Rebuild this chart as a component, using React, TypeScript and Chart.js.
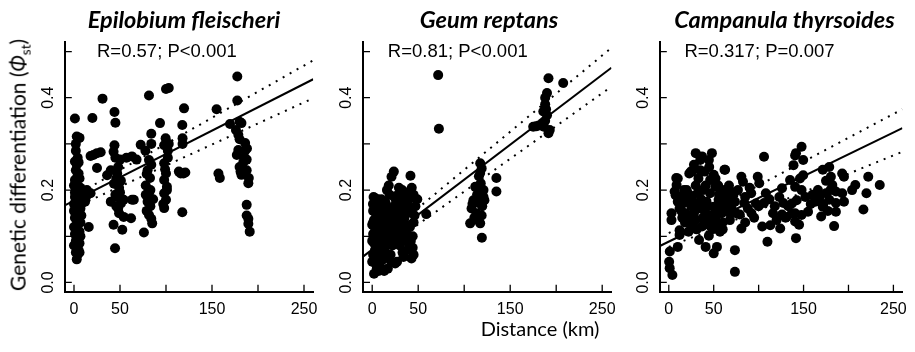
import React, { useEffect, useRef } from "react";
import { Chart, registerables } from "chart.js";
Chart.register(...registerables);

// ---------- axes ----------
const xTicks = [0, 50, 100, 150, 200, 250];
const xTickLabels = ["0", "50", "", "150", "", "250"];
const yTicks = [0, 0.1, 0.2, 0.3, 0.4, 0.5];
const yTickLabels = ["0.0", "", "0.2", "", "0.4", ""];
const xRange = [-10, 260];
const yRange = [-0.02, 0.52];

// ---------- text ----------
const panelTitles = ["Epilobium fleischeri", "Geum reptans", "Campanula thyrsoides"];
const statLabels = ["R=0.57; P<0.001", "R=0.81; P<0.001", "R=0.317; P=0.007"];
const statLabelX = [101, 93, 101];
const statLabelY = 0.5;
const xAxisTitle = "Distance (km)";

// ---------- data: [distance km, PhiST] ----------
const epilobiumPoints: number[][] = [
  [1, 0.355], [3, 0.316], [5, 0.314], [6, 0.313], [2, 0.285], [1, 0.262], [3, 0.255], [2, 0.243], [4, 0.232], [1, 0.222],
  [5, 0.236], [3, 0.212], [6, 0.225], [2, 0.2], [4, 0.195], [7, 0.19], [1, 0.185], [5, 0.178], [8, 0.17], [3, 0.168],
  [2, 0.158], [6, 0.155], [4, 0.148], [1, 0.14], [3, 0.135], [5, 0.13], [2, 0.122], [4, 0.115], [6, 0.11], [1, 0.105],
  [3, 0.1], [5, 0.095], [2, 0.09], [4, 0.085], [1, 0.08], [3, 0.076], [5, 0.07], [2, 0.065], [4, 0.06], [3, 0.05],
  [6, 0.085], [7, 0.13], [6, 0.175], [1, 0.195], [0, 0.155], [0, 0.12], [7, 0.205],
  [2, 0.3], [4, 0.27], [0, 0.21], [7, 0.16], [8, 0.145], [0, 0.08], [6, 0.065], [7, 0.1], [5, 0.26], [0, 0.17],
  [8, 0.2], [2, 0.175], [4, 0.125], [4, 0.205],
  [9, 0.185], [11, 0.18], [13, 0.185], [16, 0.12], [18, 0.193], [14, 0.2], [18, 0.274], [21, 0.276], [25, 0.28],
  [29, 0.282], [25, 0.248], [20, 0.356], [31, 0.398], [12, 0.175],
  [44, 0.369], [45, 0.346], [44, 0.297], [43, 0.283], [45, 0.27], [40, 0.243], [36, 0.232], [47, 0.236], [43.5, 0.214],
  [49, 0.205], [47, 0.185], [51, 0.171], [46, 0.165], [49, 0.15], [54, 0.142], [43, 0.125], [52.5, 0.114], [44.6, 0.074],
  [62, 0.139], [63, 0.179], [50, 0.266], [57, 0.27], [63, 0.273], [68, 0.266], [54, 0.179], [40, 0.175], [48, 0.25],
  [46, 0.225], [50, 0.195], [45, 0.19], [48, 0.16], [51, 0.22],
  [81.5, 0.405], [84, 0.322], [84, 0.3], [72.5, 0.298], [77.6, 0.285], [81.5, 0.265], [80, 0.243], [82.6, 0.226], [78, 0.21],
  [81.5, 0.193], [80, 0.175], [83, 0.165], [81.5, 0.146], [85, 0.128], [76, 0.108], [65, 0.179], [84, 0.255], [79, 0.235],
  [83, 0.2], [79, 0.155], [84, 0.138], [78, 0.19], [86, 0.18],
  [100, 0.419], [103, 0.421], [93.5, 0.345], [99.6, 0.312], [98, 0.297], [102, 0.285], [98, 0.258], [100, 0.236], [98, 0.222],
  [101, 0.207], [98, 0.193], [100, 0.179], [98, 0.161], [102, 0.27], [99, 0.245], [101, 0.2], [103, 0.3], [97, 0.17],
  [119.6, 0.377], [117.7, 0.341], [118, 0.312], [118, 0.3], [116, 0.236], [119, 0.236], [114, 0.24], [117.7, 0.152], [121, 0.238],
  [155, 0.375], [157, 0.236], [158.5, 0.226],
  [177.5, 0.446], [177.5, 0.394], [169.6, 0.343], [180, 0.348], [182, 0.345], [178.6, 0.32], [180, 0.31], [186, 0.302],
  [178.6, 0.287], [186, 0.285], [177, 0.276], [187.7, 0.266], [180, 0.25], [187.7, 0.243], [182, 0.233], [190, 0.226],
  [189.5, 0.215], [187.7, 0.168], [187.7, 0.145], [189.5, 0.138], [189.5, 0.127], [191, 0.11], [184, 0.26], [176, 0.33],
  [188, 0.29], [181, 0.24], [185, 0.27],
];

const geumPoints: number[][] = [
  [1.5, 0.185], [0.8, 0.17], [3, 0.183], [7, 0.142], [2, 0.019], [10, 0.03], [5, 0.03], [0, 0.045], [1, 0.06], [3, 0.07],
  [2, 0.085], [4, 0.095], [1, 0.105], [6, 0.11], [3, 0.12], [5, 0.13], [2, 0.135], [8, 0.14], [4, 0.15], [1, 0.155],
  [6, 0.16], [9, 0.165], [3, 0.165], [7, 0.075], [10, 0.06], [8, 0.09], [11, 0.1], [12, 0.12], [9, 0.045], [6, 0.05],
  [4, 0.04], [12, 0.08], [10, 0.135], [13, 0.15], [14, 0.11], [0, 0.09], [0, 0.125], [11, 0.165], [15, 0.17],
  [5, 0.1], [7, 0.12], [9, 0.11], [11, 0.13], [13, 0.09], [15, 0.13], [16, 0.155], [14, 0.175], [8, 0.17], [5, 0.155],
  [3, 0.11], [1, 0.13], [9, 0.075], [12, 0.05], [14, 0.065], [16, 0.08], [18, 0.06], [21, 0.1], [23, 0.115], [25, 0.13],
  [27, 0.135], [31, 0.1], [33, 0.095], [38, 0.105], [42, 0.09], [44, 0.075], [37, 0.125], [32, 0.155], [34, 0.18],
  [29, 0.14], [24, 0.185], [31, 0.185], [39, 0.19], [45, 0.19], [21, 0.045], [17, 0.03], [13, 0.025], [7, 0.025],
  [45, 0.06], [6, 0.18], [10, 0.18], [19, 0.19], [16, 0.2],
  [23.5, 0.24], [21, 0.229], [18, 0.21], [41.6, 0.231], [32.6, 0.2], [49, 0.18], [58.7, 0.148], [42.7, 0.052], [25, 0.041],
  [27, 0.045], [20, 0.06], [22, 0.08], [25, 0.095], [28, 0.11], [30, 0.12], [33, 0.13], [35, 0.14], [38, 0.15], [27, 0.155],
  [24, 0.165], [30, 0.17], [35, 0.175], [40, 0.18], [28, 0.19], [36, 0.195], [42, 0.16], [45, 0.13], [44, 0.1], [40, 0.085],
  [38, 0.07], [33, 0.065], [30, 0.08], [36, 0.11], [41, 0.12], [46, 0.145], [20, 0.12], [18, 0.14], [22, 0.15], [34, 0.055],
  [26, 0.175], [43, 0.205], [29, 0.205], [39, 0.165], [17, 0.1], [19, 0.085], [47, 0.165], [36, 0.09],
  [71.7, 0.449], [72.5, 0.333],
  [117.4, 0.258], [119, 0.247], [117.4, 0.237], [116, 0.23], [112, 0.207], [121, 0.2], [110, 0.178], [116, 0.172],
  [119.6, 0.165], [108, 0.16], [113.4, 0.15], [119, 0.145], [106.5, 0.128], [117.4, 0.128], [119.2, 0.097], [135, 0.226],
  [135, 0.197], [122, 0.178], [114, 0.19], [118, 0.215], [111, 0.14], [121, 0.185], [115, 0.135], [109, 0.17],
  [191.6, 0.442], [207.6, 0.432], [190, 0.41], [188, 0.4], [188, 0.386], [186, 0.37], [190, 0.362], [188, 0.35],
  [175, 0.337], [181, 0.34], [186.6, 0.337], [191.6, 0.323], [193, 0.33], [185, 0.345], [189, 0.375], [178, 0.338],
];

const campanulaPoints: number[][] = [
  [1.1, 0.067], [0.4, 0.045], [1, 0.031], [4, 0.016], [3, 0.15], [3, 0.135], [10, 0.077], [12, 0.103], [12, 0.113],
  [10, 0.225], [8.7, 0.211], [7.6, 0.189], [13, 0.186], [15.6, 0.171], [12, 0.16], [19, 0.15], [22.8, 0.236], [26, 0.24],
  [30, 0.28], [37, 0.273], [48, 0.28], [44.6, 0.265], [35, 0.243], [32, 0.193], [26, 0.179], [34, 0.172], [22.8, 0.128],
  [30, 0.136], [37, 0.121], [33.7, 0.092], [41, 0.077], [50, 0.063], [53.6, 0.077], [44.6, 0.101], [50, 0.116], [43, 0.145],
  [50, 0.164], [55.4, 0.179], [46, 0.193], [51.8, 0.207], [46, 0.222], [50, 0.233], [62, 0.244], [62.7, 0.193], [59, 0.15],
  [68, 0.15], [73.6, 0.175], [70, 0.196], [80.8, 0.229], [82.6, 0.218], [91.7, 0.193], [84, 0.172], [79, 0.147], [80.8, 0.117],
  [73.6, 0.07], [73.6, 0.023], [99, 0.229], [100.7, 0.215], [106, 0.272], [97, 0.171], [106, 0.172], [108, 0.193], [104, 0.121],
  [113, 0.124], [109.8, 0.088], [124, 0.117], [126, 0.147], [127.5, 0.172], [126, 0.204], [135, 0.222], [138.8, 0.254],
  [140.6, 0.275], [147.8, 0.294], [149.6, 0.265], [149.6, 0.232], [140.6, 0.207], [147.8, 0.2], [142.4, 0.178], [140.6, 0.15],
  [147.8, 0.146], [155, 0.153], [140.6, 0.132], [141.6, 0.096], [141.6, 0.28], [146, 0.225], [137, 0.171], [131, 0.142],
  [171.4, 0.244], [178.6, 0.25], [180.4, 0.229], [182, 0.211], [175, 0.193], [168, 0.186], [178.6, 0.179], [171.4, 0.164],
  [186, 0.172], [169.6, 0.143], [186, 0.153], [184, 0.122], [193, 0.236], [195, 0.175], [204, 0.2], [207.6, 0.211],
  [216.6, 0.158], [220, 0.193], [222, 0.229], [234.8, 0.211], [186, 0.197], [193, 0.193], [195, 0.229],
  [20, 0.2], [25, 0.165], [28, 0.15], [35, 0.16], [38, 0.14], [40, 0.155], [42, 0.175], [45, 0.135], [52, 0.14], [55, 0.155],
  [58, 0.165], [60, 0.13], [62, 0.2], [65, 0.17], [30, 0.21], [33, 0.225], [38, 0.2], [27, 0.125], [17, 0.2], [15, 0.14],
  [47, 0.12], [57, 0.11], [66, 0.185], [70, 0.16], [75, 0.15], [88, 0.16], [92, 0.15], [95, 0.14], [85, 0.13], [90, 0.205],
  [112, 0.18], [116, 0.15], [120, 0.135], [130, 0.14], [133, 0.165], [137, 0.15], [145, 0.125], [152, 0.185], [160, 0.19],
  [163, 0.175], [166, 0.2], [175, 0.22], [172, 0.17], [177, 0.155], [8.3, 0.226], [6.5, 0.197], [24.6, 0.24], [62.7, 0.244],
  [10, 0.175], [14, 0.155], [18, 0.13], [22, 0.11], [24, 0.145], [29, 0.165], [31, 0.115], [36, 0.18], [39, 0.125],
  [41, 0.21], [44, 0.165], [48, 0.145], [53, 0.125], [56, 0.19], [60, 0.175], [64, 0.155], [67, 0.21], [72, 0.19],
  [77, 0.2], [85, 0.185], [40, 0.24], [35, 0.265], [28, 0.255], [55, 0.21], [20, 0.175], [23, 0.19], [45, 0.25],
  [52, 0.225], [68, 0.135], [60, 0.115], [100, 0.165], [118, 0.165], [123, 0.185], [158, 0.17], [180, 0.2],
];

// regression line and its bounds: [distance, PhiST] end points
const epilobiumFit = [[-10, 0.167], [260, 0.44]];
const epilobiumUpper = [[0, 0.187], [260, 0.481]];
const epilobiumLower = [[0, 0.162], [260, 0.399]];
const geumFit = [[-10, 0.056], [260, 0.465]];
const geumUpper = [[48, 0.158], [260, 0.508]];
const geumLower = [[48, 0.123], [260, 0.424]];
const campanulaFit = [[-10, 0.079], [260, 0.334]];
const campanulaUpper = [[0, 0.107], [260, 0.375]];
const campanulaLower = [[0, 0.077], [260, 0.283]];

const panelPoints = [epilobiumPoints, geumPoints, campanulaPoints];
const panelFits = [epilobiumFit, geumFit, campanulaFit];
const panelUppers = [epilobiumUpper, geumUpper, campanulaUpper];
const panelLowers = [epilobiumLower, geumLower, campanulaLower];

// ---------- layout (pixels) ----------
const W = 915;
const H = 352;
const plotLefts = [64.8, 363, 659.8];
const plotWidth = 248.4;
const plotTop = 42.3;
const plotBottom = 291.7;
const titleCenters = [184, 489, 784.5];

const toXY = (arr: number[][]) => arr.map(([x, y]) => ({ x, y }));

function Panel({ idx }: { idx: number }) {
  const ref = useRef<HTMLCanvasElement | null>(null);
  useEffect(() => {
    if (!ref.current) return;
    const left = plotLefts[idx];
    const right = left + plotWidth;
    const axisPlugin = {
      id: "rAxes" + idx,
      afterDraw(chart: any) {
        const { ctx, chartArea: ca } = chart;
        const xs = chart.scales.x;
        const ys = chart.scales.y;
        ctx.save();
        ctx.strokeStyle = "#000";
        ctx.lineWidth = 1.3;
        ctx.beginPath();
        xTicks.forEach((v) => {
          const px = xs.getPixelForValue(v);
          ctx.moveTo(px, ca.bottom);
          ctx.lineTo(px, ca.bottom - 7);
        });
        yTicks.forEach((v) => {
          const py = ys.getPixelForValue(v);
          ctx.moveTo(ca.left, py);
          ctx.lineTo(ca.left + 7, py);
        });
        ctx.stroke();
        ctx.fillStyle = "#000";
        ctx.textAlign = "center";
        ctx.textBaseline = "middle";
        ctx.font = '16px "Liberation Sans"';
        yTicks.forEach((v, i) => {
          const lab = yTickLabels[i];
          if (!lab) return;
          const py = ys.getPixelForValue(v);
          ctx.save();
          ctx.translate(ca.left - 16, py);
          ctx.rotate(-Math.PI / 2);
          ctx.fillText(lab, 0, 0);
          ctx.restore();
        });
        ctx.font = '18.5px "Liberation Sans"';
        ctx.fillText(statLabels[idx], xs.getPixelForValue(statLabelX[idx]), ys.getPixelForValue(statLabelY));
        ctx.restore();
      },
    };
    const lineDs = (pts: number[][], dash: number[]) => ({
      data: toXY(pts),
      showLine: true,
      pointRadius: 0,
      borderColor: "#000",
      borderWidth: 2,
      borderDash: dash,
      borderCapStyle: "butt",
      fill: false,
      order: 1,
    });
    const chart = new Chart(ref.current, {
      type: "scatter",
      data: {
        datasets: [
          {
            data: toXY(panelPoints[idx]),
            pointRadius: 5,
            pointHoverRadius: 5,
            backgroundColor: "#000",
            borderWidth: 0,
            order: 2,
          } as any,
          lineDs(panelFits[idx], []),
          lineDs(panelUppers[idx], [2, 6]),
          lineDs(panelLowers[idx], [2, 6]),
        ],
      },
      options: {
        animation: false,
        responsive: false,
        maintainAspectRatio: false,
        devicePixelRatio: 1,
        events: [],
        layout: {
          padding: {
            left: left - 40,
            right: W - right,
            top: plotTop,
            bottom: H - plotBottom - 40,
          },
        },
        plugins: { legend: { display: false }, tooltip: { enabled: false } },
        scales: {
          x: {
            type: "linear",
            min: xRange[0],
            max: xRange[1],
            afterBuildTicks: (s: any) => {
              s.ticks = xTicks.map((v) => ({ value: v }));
            },
            afterFit: (s: any) => {
              s.height = 40;
            },
            grid: { display: false, drawTicks: false },
            border: { display: true, color: "#000", width: 2 },
            ticks: {
              autoSkip: false,
              maxRotation: 0,
              minRotation: 0,
              padding: 8,
              color: "#000",
              font: { family: "Liberation Sans", size: 16 },
              callback: (_v: any, i: number) => xTickLabels[i],
            },
          },
          y: {
            type: "linear",
            min: yRange[0],
            max: yRange[1],
            afterBuildTicks: (s: any) => {
              s.ticks = yTicks.map((v) => ({ value: v }));
            },
            afterFit: (s: any) => {
              s.width = 40;
            },
            grid: { display: false, drawTicks: false },
            border: { display: true, color: "#000", width: 2 },
            ticks: { display: false },
          },
        },
      } as any,
      plugins: [axisPlugin],
    });
    return () => chart.destroy();
  }, [idx]);
  return (
    <canvas
      ref={ref}
      width={W}
      height={H}
      style={{ position: "absolute", left: 0, top: 0, width: W, height: H }}
    />
  );
}

export default function App() {
  return (
    <div
      style={{
        position: "absolute",
        left: 0,
        top: 0,
        width: W,
        height: H,
        background: "#fff",
        overflow: "hidden",
      }}
    >
      {[0, 1, 2].map((i) => (
        <Panel key={i} idx={i} />
      ))}
      {panelTitles.map((t, i) => (
        <div
          key={t}
          style={{
            position: "absolute",
            left: titleCenters[i],
            top: 20,
            transform: "translate(-50%, -50%)",
            whiteSpace: "nowrap",
            fontFamily: "Lato",
            fontWeight: 700,
            fontStyle: "italic",
            fontSize: 23.5,
            color: "#000",
            lineHeight: 1,
          }}
        >
          {t}
        </div>
      ))}
      <div
        style={{
          position: "absolute",
          left: 540,
          top: 328,
          transform: "translate(-50%, -50%)",
          whiteSpace: "nowrap",
          fontFamily: "Lato",
          fontSize: 20,
          color: "#000",
          lineHeight: 1,
        }}
      >
        {xAxisTitle}
      </div>
      <div
        style={{
          position: "absolute",
          left: 20,
          top: 165,
          transform: "translate(-50%, -50%) rotate(-90deg)",
          whiteSpace: "nowrap",
          fontFamily: "Lato",
          fontSize: 21,
          color: "#000",
          lineHeight: 1,
        }}
      >
        Genetic differentiation (<i>Φ</i>
        <sub style={{ fontSize: "0.65em" }}>st</sub>)
      </div>
    </div>
  );
}
